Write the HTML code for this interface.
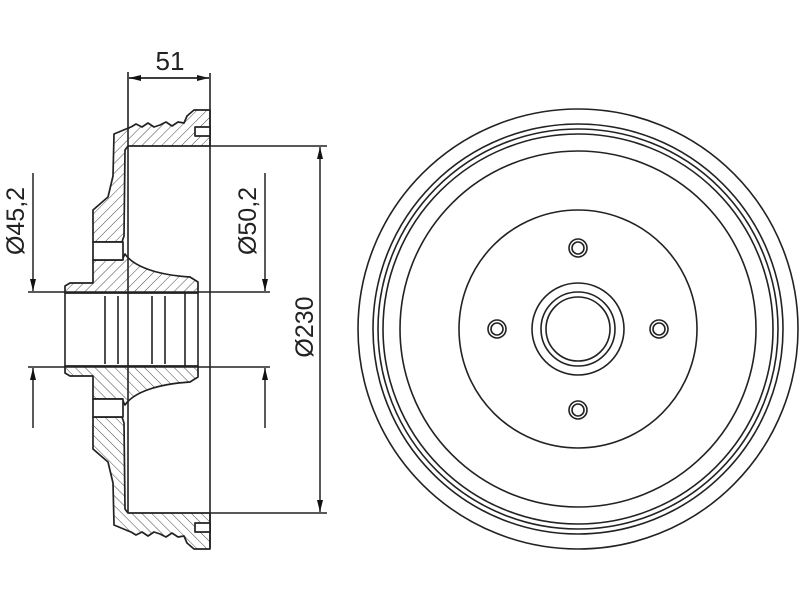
<!DOCTYPE html>
<html><head><meta charset="utf-8"><style>
html,body{margin:0;padding:0;background:#fff;}
svg{display:block}
text{font-family:"Liberation Sans",sans-serif;fill:#222;}
</style></head><body>
<svg width="800" height="600" viewBox="0 0 800 600" xmlns="http://www.w3.org/2000/svg">
<defs>
<pattern id="h" patternUnits="userSpaceOnUse" width="7" height="7" patternTransform="rotate(45)">
<line x1="0" y1="0" x2="0" y2="7" stroke="#333" stroke-width="0.9"/>
</pattern>
<marker id="a" markerWidth="12" markerHeight="8" refX="12" refY="4" orient="auto" markerUnits="userSpaceOnUse">
<path d="M0,1 L12,4 L0,7 Z" fill="#111"/>
</marker>
<g id="half" stroke="#222" stroke-width="1.7" fill="url(#h)" stroke-linejoin="round">
<path d="M210,110 L194,110 L187,116 L184,123 L178,122 L172,126 L166,122 L160,125 L154,127 L148,123 L142,127 L136,124 L131,127 L126,129 L114,134 L113,176 L108,197 L93,210 L93,242 L122,242 L124,236 L125,150 L128,146 L210,146 Z"/>
<rect x="195" y="127" width="15" height="9" fill="#fff"/>
<path d="M93,260 L122,260 L125,254 C134,267 158,275 190,277 L198,282 L198,293 L65,293 L65,286 L70,283 L93,283 Z"/>
<rect x="93" y="242" width="30" height="18" fill="#fff"/>
</g>
</defs>
<g fill="none" stroke="#222" stroke-width="1.6">
<line x1="65" y1="293" x2="65" y2="367"/>
<line x1="105" y1="296" x2="105" y2="364"/>
<line x1="118" y1="296" x2="118" y2="364"/>
<line x1="152" y1="296" x2="152" y2="364"/>
<line x1="165" y1="296" x2="165" y2="364"/>
<line x1="185" y1="293" x2="185" y2="367"/>
<line x1="198" y1="293" x2="198" y2="367"/>
<line x1="128" y1="146" x2="128" y2="513"/>
<line x1="210" y1="73" x2="210" y2="548"/>
<line x1="128" y1="72" x2="128" y2="146"/>
</g>
<use href="#half"/>
<use href="#half" transform="translate(0,659) scale(1,-1)"/>
<g stroke="#222" stroke-width="1.5" fill="none">
<line x1="129" y1="78" x2="209" y2="78" marker-end="url(#a)"/>
<line x1="209" y1="78" x2="129" y2="78" marker-end="url(#a)"/>
<line x1="210" y1="146" x2="327" y2="146"/>
<line x1="210" y1="513" x2="327" y2="513"/>
<line x1="320" y1="330" x2="320" y2="147" marker-end="url(#a)"/>
<line x1="320" y1="330" x2="320" y2="512" marker-end="url(#a)"/>
<line x1="28" y1="292" x2="270" y2="292"/>
<line x1="28" y1="367" x2="270" y2="367"/>
<line x1="33" y1="173" x2="33" y2="291" marker-end="url(#a)"/>
<line x1="33" y1="428" x2="33" y2="368" marker-end="url(#a)"/>
<line x1="265" y1="173" x2="265" y2="291" marker-end="url(#a)"/>
<line x1="265" y1="428" x2="265" y2="368" marker-end="url(#a)"/>
</g>
<text x="170" y="70" font-size="26" text-anchor="middle">51</text>
<text transform="translate(24,221) rotate(-90)" font-size="25" text-anchor="middle">Ø45,2</text>
<text transform="translate(256,221) rotate(-90)" font-size="25" text-anchor="middle">Ø50,2</text>
<text transform="translate(313,327) rotate(-90)" font-size="25" text-anchor="middle">Ø230</text>
<g fill="none" stroke="#222" stroke-width="1.6">
<circle cx="578" cy="329" r="220"/>
<circle cx="578" cy="329" r="205"/>
<circle cx="578" cy="329" r="200"/>
<circle cx="578" cy="329" r="195"/>
<circle cx="578" cy="329" r="178"/>
<circle cx="578" cy="329" r="119"/>
<circle cx="578" cy="329" r="46"/>
<circle cx="578" cy="329" r="37"/>
<circle cx="578" cy="329" r="32"/>
<circle cx="578" cy="248" r="9"/><circle cx="578" cy="248" r="6"/>
<circle cx="578" cy="410" r="9"/><circle cx="578" cy="410" r="6"/>
<circle cx="497" cy="329" r="9"/><circle cx="497" cy="329" r="6"/>
<circle cx="659" cy="329" r="9"/><circle cx="659" cy="329" r="6"/>
</g>
</svg>
</body></html>
